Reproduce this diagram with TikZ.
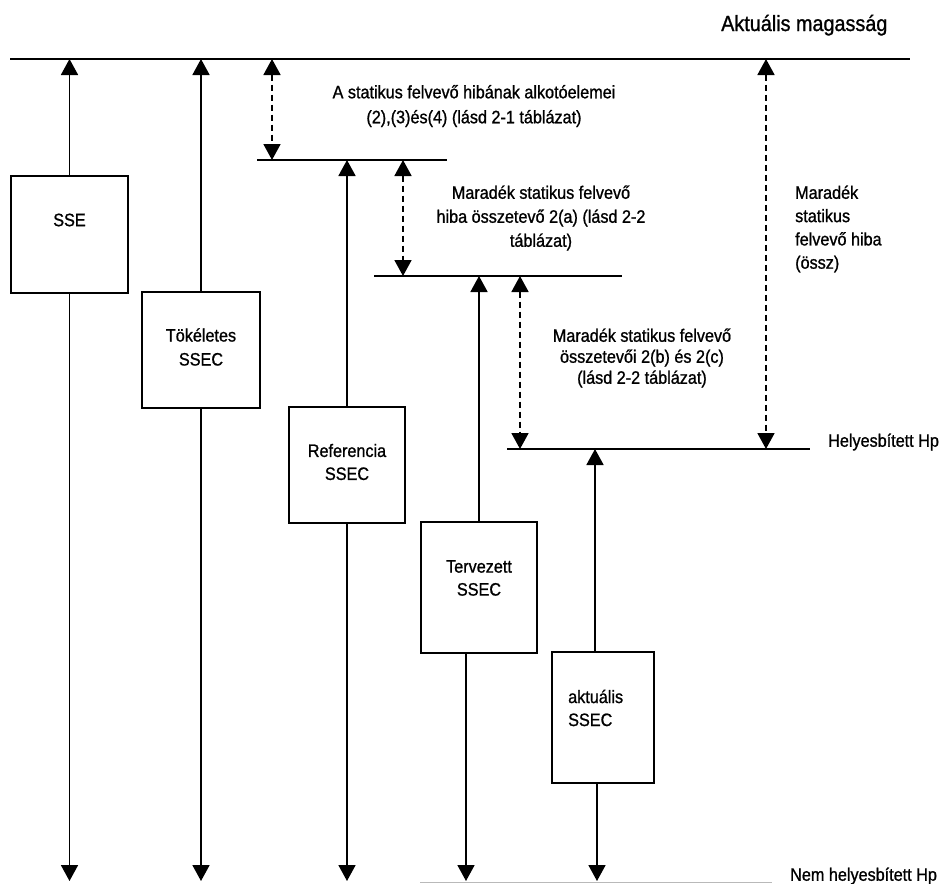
\documentclass[tikz,border=0pt]{standalone}
\usepackage{fontspec}
\setmainfont{Liberation Sans}[FakeStretch=0.9,FakeBold=1]
\usetikzlibrary{arrows.meta}
\begin{document}
\begin{tikzpicture}[x=1pt,y=-1pt,
  box/.style={draw, line width=1.8pt, inner sep=0pt},
  lbl/.style={font=\fontsize{18}{23}\selectfont, inner sep=0pt},
  hline/.style={line width=1.8pt},
  arr/.style={line width=1.8pt, -{Triangle[width=17pt,length=16pt]}},
  darr/.style={line width=1.8pt, dash pattern=on 6pt off 4pt,
    {Triangle[width=17pt,length=16pt]}-{Triangle[width=17pt,length=16pt]}}]
\useasboundingbox (0,0) rectangle (943,884);

% horizontal levels
\coordinate (L1a) at (10,59);   \coordinate (L1b) at (910,59);
\coordinate (L2a) at (257,160); \coordinate (L2b) at (447,160);
\coordinate (L3a) at (374,276); \coordinate (L3b) at (622,276);
\coordinate (L4a) at (507,449); \coordinate (L4b) at (810,449);
\coordinate (L5a) at (420,882); \coordinate (L5b) at (772,882);
\draw[hline] (L1a) -- (L1b);
\draw[hline] (L2a) -- (L2b);
\draw[hline] (L3a) -- (L3b);
\draw[hline] (L4a) -- (L4b);
\draw[line width=1pt, gray!55] (L5a) -- (L5b);

% boxes
\node[box, minimum width=117pt, minimum height=117pt] (sse)  at (69.5,234.5) {};
\node[box, minimum width=118pt, minimum height=116pt] (tok)  at (201,350) {};
\node[box, minimum width=116pt, minimum height=116pt] (ref)  at (347,465) {};
\node[box, minimum width=116pt, minimum height=131pt] (terv) at (479,587.5) {};
\node[box, minimum width=102pt, minimum height=131pt] (akt)  at (603,717.5) {};

% box texts
\node[lbl] (tsse)  at (69.5,220) {SSE};
\node[lbl, align=center, font=\fontsize{18}{24}\selectfont] (ttok) at (201,347) {Tökéletes\\SSEC};
\node[lbl, align=center] (tref)  at (347,462) {Referencia\\SSEC};
\node[lbl, align=center] (tterv) at (479,578) {Tervezett\\SSEC};
\node[lbl, align=left, anchor=west] (takt) at (568,708) {aktuális\\SSEC};

% solid arrows up
\draw[arr] (sse.north)  -- (sse.north |- L1a);
\draw[arr] (tok.north)  -- (tok.north |- L1a);
\draw[arr] (ref.north)  -- (ref.north |- L2a);
\draw[arr] (terv.north) -- (terv.north |- L3a);
\draw[arr] ([xshift=-8pt]akt.north) -- ([xshift=-8pt]akt.north |- L4a);

% solid arrows down
\coordinate (bot) at (0,881);
\draw[arr] (sse.south)  -- (sse.south |- bot);
\draw[arr] (tok.south)  -- (tok.south |- bot);
\draw[arr] (ref.south)  -- (ref.south |- bot);
\draw[arr] ([xshift=-13pt]terv.south) -- ([xshift=-13pt]terv.south |- bot);
\draw[arr] ([xshift=-6pt]akt.south) -- ([xshift=-6pt]akt.south |- bot);

% dashed double arrows
\coordinate (d1) at (272,0); \coordinate (d2) at (403,0);
\coordinate (d3) at (520,0); \coordinate (d4) at (766,0);
\draw[darr] (d1 |- L1a) -- (d1 |- L2a);
\draw[darr] (d2 |- L2a) -- (d2 |- L3a);
\draw[darr] (d3 |- L3a) -- (d3 |- L4a);
\draw[darr] (d4 |- L1a) -- (d4 |- L4a);

% labels
\node[lbl, font=\fontsize{22}{26}\selectfont, anchor=base west] (aktmag) at (721,31) {Aktuális magasság};
\node[lbl, align=center, font=\fontsize{18}{25}\selectfont] (txt1) at (474,106) {A statikus felvevő hibának alkotóelemei\\(2),(3)és(4) (lásd 2-1 táblázat)};
\node[lbl, align=center, font=\fontsize{18}{24}\selectfont] (txt2) at (541,218) {Maradék statikus felvevő\\hiba összetevő 2(a) (lásd 2-2\\táblázat)};
\node[lbl, align=center, font=\fontsize{18}{21}\selectfont] (txt3) at (642,358) {Maradék statikus felvevő\\összetevői 2(b) és 2(c)\\(lásd 2-2 táblázat)};
\node[lbl, align=left, anchor=west, font=\fontsize{18}{23.3}\selectfont] (txt4) at (795,229) {Maradék\\statikus\\felvevő hiba\\(össz)};
\node[lbl, anchor=west] (helyes) at (828,442) {Helyesbített Hp};
\node[lbl, anchor=west] (nemhelyes) at (790,876) {Nem helyesbített Hp};
\end{tikzpicture}
\end{document}
